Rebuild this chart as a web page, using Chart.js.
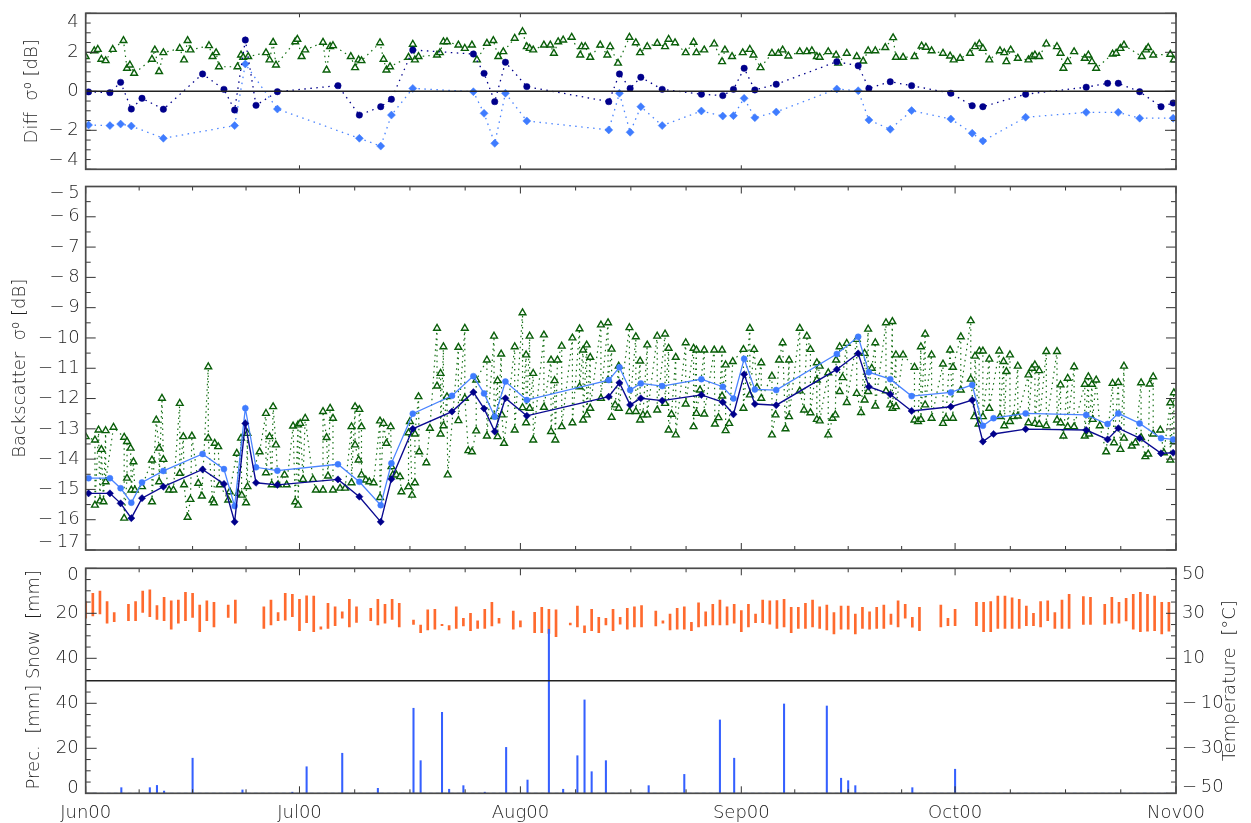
<!DOCTYPE html>
<html><head><meta charset="utf-8">
<script src="https://cdn.jsdelivr.net/npm/chart.js@4.4.1/dist/chart.umd.min.js"></script>
<style>
html,body{margin:0;padding:0;background:#fff;}
#wrap{position:relative;width:1251px;height:823px;overflow:hidden;background:#fff;}
canvas{position:absolute;left:0;}
</style></head><body>
<div id="wrap">
<canvas id="cDiff" style="top:0px" width="1251" height="180"></canvas>
<canvas id="cBs" style="top:180px" width="1251" height="380"></canvas>
<canvas id="cMet" style="top:560px" width="1251" height="263"></canvas>
</div>
<script>
// ---------- categories / tick labels ----------
const monthDays = [0, 30, 61, 92, 122, 153];          // days since 1 Jun 2000
const monthLabels = ['Jun00','Jul00','Aug00','Sep00','Oct00','Nov00'];

// ---------- backscatter (two series on common pass days) ----------
const passDays = [0.4,3.4,4.9,6.4,7.9,10.9,16.4,19.4,20.9,22.4,23.9,26.9,35.4,38.4,41.4,42.9,45.9,51.4,54.4,55.9,57.4,58.9,61.9,73.4,74.9,76.4,77.9,80.9,86.4,89.4,90.9,92.4,93.9,96.9,105.4,108.4,109.9,112.9,115.9,121.4,124.4,125.9,127.4,131.9,140.4,143.4,144.9,147.9,150.9,152.6];
const bsNavy = [-15.13,-15.13,-15.46,-15.95,-15.29,-14.91,-14.34,-14.82,-16.07,-12.82,-14.78,-14.85,-14.67,-15.24,-16.07,-14.66,-13.0,-12.43,-11.79,-12.33,-13.09,-11.99,-12.57,-11.94,-11.48,-12.21,-11.99,-12.07,-11.88,-12.12,-12.52,-11.2,-12.18,-12.22,-11.04,-10.51,-11.61,-11.86,-12.41,-12.27,-12.05,-13.42,-13.17,-13.01,-13.04,-13.35,-12.98,-13.31,-13.81,-13.79];
const bsLight = [-14.63,-14.63,-14.96,-15.44,-14.77,-14.39,-13.83,-14.33,-15.55,-12.32,-14.27,-14.38,-14.17,-14.75,-15.52,-14.14,-12.5,-11.91,-11.26,-11.83,-12.6,-11.44,-12.05,-11.39,-10.97,-11.72,-11.5,-11.59,-11.36,-11.61,-12.0,-10.69,-11.7,-11.72,-10.53,-9.96,-11.13,-11.36,-11.92,-11.8,-11.55,-12.9,-12.65,-12.49,-12.54,-12.84,-12.49,-12.82,-13.31,-13.35];

// green measured backscatter [day, dB]
const bsGreen = [[0.0,-13.26],[1.3,-13.37],[1.3,-15.52],[1.8,-13.04],[2.0,-15.38],[2.2,-13.68],[2.5,-15.41],[2.8,-13.06],[2.8,-14.75],[3.9,-12.95],[5.4,-13.28],[5.4,-15.95],[5.8,-14.63],[5.8,-13.42],[6.3,-13.64],[6.4,-15.02],[6.7,-14.09],[6.9,-15.02],[7.9,-14.91],[9.3,-14.03],[9.3,-15.41],[9.9,-12.71],[10.3,-13.64],[10.3,-14.75],[10.7,-11.99],[10.9,-14.01],[11.7,-15.02],[12.3,-15.02],[13.2,-12.16],[13.2,-14.47],[13.7,-13.26],[13.8,-14.85],[14.3,-15.92],[14.7,-15.33],[14.9,-13.24],[15.8,-14.8],[16.3,-15.22],[17.2,-10.95],[17.2,-13.31],[17.8,-15.35],[18.0,-15.44],[18.1,-13.48],[18.6,-13.59],[18.8,-14.85],[20.0,-15.35],[20.2,-15.08],[21.2,-13.81],[21.4,-15.13],[21.8,-13.31],[21.9,-15.19],[22.5,-15.44],[22.7,-13.15],[22.7,-14.91],[24.4,-13.76],[25.3,-12.49],[25.3,-14.45],[25.8,-13.26],[26.1,-14.85],[26.3,-12.27],[26.7,-13.53],[27.0,-14.85],[27.9,-14.52],[28.2,-14.85],[29.1,-12.91],[29.4,-15.41],[29.8,-12.87],[29.8,-15.52],[30.1,-12.82],[30.5,-14.67],[30.8,-12.65],[31.9,-14.67],[32.3,-15.02],[33.3,-15.02],[33.3,-12.43],[33.8,-13.29],[34.0,-14.56],[34.3,-12.32],[34.7,-12.65],[34.7,-15.02],[35.7,-14.96],[36.4,-14.96],[37.3,-12.93],[37.3,-14.78],[37.8,-12.27],[37.8,-13.53],[38.3,-14.03],[38.4,-12.36],[38.7,-12.93],[38.7,-14.52],[39.3,-14.69],[39.8,-14.75],[40.4,-14.78],[41.3,-12.74],[41.3,-15.27],[41.8,-12.82],[42.2,-13.48],[42.8,-12.93],[42.9,-14.25],[43.1,-14.52],[43.6,-14.52],[44.1,-14.58],[44.3,-15.08],[45.3,-14.91],[45.3,-13.13],[45.5,-12.76],[45.8,-15.19],[46.2,-14.78],[46.2,-13.17],[46.7,-11.94],[46.8,-13.76],[47.8,-14.12],[48.3,-12.98],[49.3,-9.68],[49.3,-11.59],[49.8,-11.17],[49.8,-13.17],[50.2,-10.29],[50.2,-12.9],[50.7,-11.94],[50.8,-14.52],[52.3,-10.31],[52.3,-12.73],[53.2,-9.68],[53.2,-11.99],[53.7,-13.72],[54.2,-13.76],[54.8,-13.07],[54.8,-11.39],[56.3,-10.73],[56.3,-13.24],[57.3,-9.94],[57.3,-12.6],[57.8,-11.41],[57.8,-13.26],[58.3,-10.53],[58.4,-12.54],[58.7,-13.48],[60.2,-10.29],[60.2,-13.04],[61.3,-9.17],[61.3,-12.3],[61.8,-10.56],[61.8,-12.8],[62.3,-9.94],[62.3,-12.32],[62.8,-11.17],[62.8,-13.37],[64.3,-9.9],[64.3,-12.29],[65.3,-10.73],[65.3,-13.09],[65.8,-11.41],[65.9,-13.37],[66.2,-10.73],[66.8,-10.27],[66.8,-12.93],[68.3,-10.0],[68.3,-12.8],[69.3,-9.7],[69.3,-11.61],[69.8,-10.4],[69.8,-12.71],[70.3,-10.23],[70.3,-12.54],[70.8,-10.64],[70.8,-12.32],[72.3,-9.57],[72.3,-11.99],[73.3,-9.5],[73.3,-11.39],[73.8,-10.37],[73.8,-12.62],[74.3,-12.21],[74.8,-10.93],[74.8,-12.32],[76.3,-9.66],[76.3,-12.43],[77.2,-9.96],[77.2,-12.43],[77.8,-10.76],[77.8,-12.71],[78.2,-12.54],[78.8,-10.23],[78.8,-12.54],[80.2,-9.94],[80.2,-12.38],[81.3,-9.87],[81.3,-12.16],[81.8,-10.34],[81.8,-13.04],[82.2,-12.52],[82.8,-10.64],[82.8,-13.2],[84.2,-10.16],[84.2,-12.18],[85.3,-10.34],[85.3,-12.93],[85.7,-10.4],[85.7,-12.49],[86.2,-11.72],[86.8,-10.4],[86.8,-12.51],[88.2,-10.4],[88.3,-12.84],[88.8,-12.63],[89.3,-10.4],[89.3,-11.92],[89.8,-10.89],[89.8,-13.06],[90.3,-12.82],[90.8,-10.78],[92.3,-10.38],[92.3,-12.32],[93.2,-9.68],[93.2,-11.88],[93.8,-10.38],[94.2,-11.64],[94.8,-10.82],[94.8,-11.99],[96.3,-11.26],[96.3,-13.2],[96.8,-12.54],[97.3,-10.73],[97.8,-10.16],[98.2,-13.0],[98.7,-10.73],[98.7,-12.6],[100.2,-9.68],[100.2,-11.75],[100.8,-12.38],[101.2,-9.94],[101.7,-10.38],[101.7,-12.47],[102.6,-10.82],[102.6,-12.69],[102.6,-11.39],[103.0,-10.93],[103.0,-12.74],[104.2,-11.15],[104.2,-13.2],[104.8,-12.65],[105.2,-12.54],[105.3,-10.73],[105.8,-10.29],[105.8,-11.77],[106.2,-11.31],[106.8,-10.18],[106.8,-12.13],[108.2,-10.05],[108.2,-11.83],[108.8,-12.46],[109.3,-10.51],[109.3,-12.05],[109.8,-9.71],[109.8,-11.77],[110.3,-11.0],[110.8,-10.16],[110.8,-12.25],[112.3,-9.5],[112.3,-11.75],[112.9,-12.21],[113.2,-9.46],[113.2,-12.32],[113.7,-10.56],[113.7,-12.27],[114.7,-10.56],[116.3,-10.97],[116.3,-12.71],[116.8,-12.76],[117.2,-10.29],[117.2,-12.69],[117.8,-9.87],[117.8,-12.21],[118.7,-10.56],[118.7,-12.65],[120.3,-10.86],[120.3,-12.82],[120.7,-12.65],[121.3,-10.4],[121.7,-12.65],[121.7,-10.97],[122.8,-9.96],[122.8,-11.72],[124.2,-9.43],[124.2,-11.36],[124.7,-12.6],[124.8,-10.6],[125.3,-12.84],[125.4,-10.43],[125.9,-10.43],[125.9,-12.6],[126.8,-10.7],[126.8,-12.32],[128.2,-10.43],[128.3,-12.6],[128.8,-10.78],[128.9,-12.9],[129.2,-11.11],[129.7,-10.56],[129.7,-12.76],[130.2,-12.6],[130.8,-10.93],[130.8,-12.58],[132.3,-11.22],[132.3,-12.8],[132.8,-11.0],[133.2,-10.89],[133.2,-12.82],[133.8,-11.08],[133.8,-12.85],[134.8,-10.45],[134.8,-12.9],[136.3,-10.45],[136.3,-12.71],[136.8,-11.55],[136.8,-12.8],[137.2,-13.24],[137.8,-11.33],[137.8,-12.93],[138.7,-10.95],[138.7,-12.93],[140.2,-11.53],[140.2,-13.24],[140.7,-11.28],[140.8,-13.17],[141.2,-11.53],[141.3,-12.69],[141.8,-11.39],[142.3,-12.9],[143.2,-13.76],[144.1,-11.5],[144.3,-13.46],[144.9,-11.47],[145.2,-13.68],[145.7,-10.93],[145.7,-13.31],[146.8,-13.57],[147.3,-13.46],[148.1,-11.48],[148.1,-13.29],[148.7,-13.92],[149.1,-13.83],[149.3,-11.52],[149.8,-11.28],[149.8,-13.17],[150.8,-13.04],[151.3,-13.79],[152.2,-12.14],[152.2,-14.03],[152.7,-11.81],[152.7,-13.42]];

// ---------- differences [day, dB] ----------
const diffNavy = [[0.4,-0.03],[3.4,-0.07],[4.9,0.46],[6.4,-0.91],[7.9,-0.36],[10.9,-0.92],[16.4,0.89],[19.4,0.1],[20.9,-0.96],[22.4,2.63],[23.9,-0.72],[26.9,-0.02],[35.4,0.29],[38.4,-1.22],[41.4,-0.79],[42.9,-0.41],[45.9,2.12],[54.4,1.91],[55.9,0.92],[57.4,-0.53],[58.9,1.49],[61.9,0.24],[73.4,-0.53],[74.9,0.89],[76.4,0.15],[77.9,0.72],[80.9,0.1],[86.4,-0.15],[89.4,-0.22],[90.9,0.1],[92.4,1.18],[93.9,0.07],[96.9,0.36],[105.4,1.52],[108.4,1.31],[109.9,0.15],[112.9,0.49],[115.9,0.29],[121.4,-0.1],[124.4,-0.74],[125.9,-0.79],[131.9,-0.15],[140.4,0.21],[143.4,0.41],[144.9,0.41],[147.9,-0.02],[150.9,-0.79],[152.6,-0.6]];
const diffLight = [[0.4,-1.73],[3.4,-1.76],[4.9,-1.68],[6.4,-1.78],[10.9,-2.41],[20.9,-1.76],[22.4,1.4],[26.9,-0.91],[38.4,-2.41],[41.4,-2.81],[42.9,-1.22],[45.9,0.15],[54.4,-0.02],[55.9,-1.13],[57.4,-2.67],[58.9,-0.1],[61.9,-1.52],[73.4,-1.98],[74.9,-0.1],[76.4,-2.1],[77.9,-0.79],[80.9,-1.76],[86.4,-1.01],[89.4,-1.27],[90.9,-1.25],[92.4,-0.36],[93.9,-1.35],[96.9,-1.06],[105.4,0.12],[108.4,0.03],[109.9,-1.47],[112.9,-1.95],[115.9,-0.99],[121.4,-1.42],[124.4,-2.15],[125.9,-2.55],[131.9,-1.33],[140.4,-1.08],[144.9,-1.08],[147.9,-1.38],[152.6,-1.38]];
const diffGreen = [[0.0,1.78],[1.2,2.08],[1.7,2.15],[2.2,1.64],[2.8,1.57],[3.8,2.15],[5.3,2.6],[5.8,1.18],[6.2,1.35],[6.8,0.92],[9.3,1.64],[9.7,2.12],[10.3,1.01],[10.9,1.98],[13.2,2.2],[13.8,1.61],[14.3,2.6],[14.7,2.12],[17.3,2.34],[17.8,1.78],[18.3,1.98],[18.7,1.26],[21.3,1.26],[21.8,1.86],[22.1,1.74],[22.8,1.78],[25.3,1.98],[25.8,1.61],[26.3,2.51],[26.7,1.35],[29.4,2.54],[29.7,2.67],[30.3,1.78],[30.8,2.12],[33.3,2.51],[33.8,1.09],[34.3,2.29],[34.7,2.34],[37.2,1.78],[37.8,1.21],[38.3,1.61],[38.7,1.57],[41.3,2.49],[41.8,1.64],[42.2,1.09],[42.7,1.26],[45.3,1.74],[45.9,2.41],[46.2,1.61],[46.7,1.78],[49.3,1.86],[49.7,1.98],[50.2,2.54],[50.7,2.54],[52.3,2.37],[53.2,2.2],[54.2,2.37],[54.9,1.61],[56.3,2.46],[57.2,2.6],[57.9,1.78],[58.6,2.03],[60.2,2.72],[61.3,3.06],[61.9,2.29],[62.3,2.2],[62.8,2.12],[64.3,2.37],[65.2,2.37],[65.7,1.95],[66.3,2.54],[67.0,2.63],[68.2,2.77],[69.4,1.86],[69.6,2.29],[70.1,2.29],[70.8,1.74],[72.2,2.37],[73.2,1.86],[73.6,2.29],[74.7,1.44],[76.3,2.77],[77.2,2.49],[77.8,1.98],[78.8,2.29],[80.2,2.46],[81.3,2.29],[81.8,2.67],[82.7,2.49],[84.2,1.98],[85.3,2.51],[85.7,1.98],[86.8,2.12],[88.2,2.43],[89.3,1.52],[89.7,2.12],[90.7,1.78],[92.2,1.98],[93.2,2.15],[93.7,1.86],[94.7,1.21],[96.3,1.95],[97.2,1.95],[97.8,2.12],[98.6,1.81],[100.2,2.03],[101.2,2.03],[101.9,2.08],[102.6,1.78],[103.0,1.74],[104.2,2.03],[105.3,1.86],[105.6,1.44],[106.8,1.95],[108.2,1.78],[109.1,1.55],[109.8,2.08],[110.8,2.08],[112.2,2.24],[113.3,2.75],[113.7,1.74],[114.7,1.74],[116.3,1.78],[117.3,2.32],[117.9,2.26],[118.7,2.08],[120.3,1.95],[121.3,1.81],[121.8,1.61],[122.7,1.69],[124.1,1.95],[124.8,2.29],[125.4,2.43],[125.9,2.2],[126.8,1.61],[128.3,2.08],[128.9,1.98],[129.2,1.52],[129.8,2.12],[130.8,1.69],[132.3,1.61],[132.8,1.78],[133.2,1.86],[133.8,1.78],[134.8,2.43],[136.3,2.29],[136.8,1.95],[137.2,1.18],[137.8,1.52],[138.7,2.03],[140.2,1.69],[140.7,1.86],[141.2,1.52],[141.8,1.18],[144.1,1.91],[144.6,1.95],[145.2,2.2],[145.7,2.37],[148.2,1.78],[148.8,2.12],[149.1,2.24],[149.8,1.86],[152.2,1.9],[152.7,1.61]];

// ---------- meteorology ----------
// daily temperature [day, min °C, max °C]
const tempRange = [[0,27.8,35.2],[1,28.8,38.9],[2,29.7,39.9],[3,25.6,35.2],[4,26.3,30.3],[6,26.7,34.0],[7,26.7,35.2],[8,30.4,39.9],[9,28.5,40.4],[10,27.3,33.4],[11,26.7,37.1],[12,22.9,35.5],[13,25.6,35.9],[14,26.7,39.3],[15,28.2,38.9],[16,21.8,33.7],[17,26.7,35.5],[18,24.0,34.9],[20,28.2,33.7],[21,25.6,35.9],[25,23.3,32.9],[26,24.8,35.9],[27,26.7,30.3],[28,27.0,38.9],[29,28.5,38.4],[30,22.3,36.2],[31,25.8,37.8],[32,21.8,37.7],[33,23.0,24.0],[34,23.3,34.4],[35,24.5,32.9],[36,27.8,30.7],[37,24.0,36.2],[38,26.0,32.9],[40,26.7,32.2],[41,24.8,36.2],[42,25.6,34.0],[43,27.3,36.2],[44,24.0,34.4],[46,25.1,27.0],[47,21.4,24.8],[48,22.6,31.5],[49,23.0,31.8],[50,24.5,25.1],[51,22.6,24.5],[52,23.3,32.9],[53,24.4,27.8],[54,22.3,30.0],[55,23.3,26.7],[56,23.3,31.8],[57,24.4,34.9],[58,25.6,27.8],[60,22.9,31.0],[61,24.0,26.7],[63,21.4,30.4],[64,21.4,32.7],[65,21.1,31.8],[66,19.6,31.5],[68,24.8,25.6],[69,24.0,33.2],[70,21.4,24.4],[71,22.3,31.8],[72,21.4,28.2],[73,24.8,27.8],[74,22.3,31.8],[75,25.2,28.2],[76,23.0,32.2],[77,24.0,32.9],[78,24.0,33.4],[80,24.4,31.0],[81,25.6,26.6],[82,22.6,29.7],[83,22.9,32.2],[84,22.9,32.9],[85,22.3,26.0],[86,24.0,34.7],[87,24.4,30.7],[88,24.8,34.0],[89,24.8,35.9],[90,24.8,32.9],[91,25.6,34.0],[92,21.8,31.2],[93,24.0,34.0],[94,25.8,29.6],[95,25.8,35.9],[96,25.2,35.5],[97,23.3,35.6],[98,24.0,36.2],[99,21.4,32.7],[100,23.3,32.7],[101,23.3,34.4],[102,24.0,35.9],[103,23.3,32.9],[104,22.6,33.7],[105,20.8,30.3],[106,22.9,33.2],[107,22.9,33.2],[108,20.8,29.7],[109,23.3,32.7],[110,22.9,30.7],[111,23.3,32.7],[112,23.3,33.7],[113,25.1,29.7],[114,24.0,35.5],[115,27.8,34.0],[116,23.8,28.2],[117,22.3,32.7],[120,24.0,33.7],[121,24.5,27.8],[122,24.5,31.8],[125,24.5,34.9],[126,21.8,34.9],[127,21.8,35.2],[128,23.3,37.7],[129,23.3,37.7],[130,23.3,36.9],[131,23.3,36.2],[132,24.5,33.2],[133,24.5,30.0],[134,24.0,35.2],[135,26.7,35.5],[136,23.3,30.3],[137,23.3,35.9],[138,23.3,38.4],[140,25.1,37.4],[141,25.1,37.1],[143,25.1,34.0],[144,25.6,37.1],[145,25.6,34.9],[146,26.6,36.7],[147,22.9,38.4],[148,21.8,39.3],[149,22.1,38.4],[150,22.3,37.7],[151,20.8,34.9],[152,22.1,34.9]];
// daily precipitation [day, mm]
const precip = [[5,2.5],[9,2.5],[10,3.5],[11,1.0],[15,15.6],[22,1.5],[29,0.5],[31,11.8],[36,17.8],[41,2.2],[46,37.8],[47,14.5],[50,36.0],[51,1.8],[53,3.4],[56,0.5],[59,20.4],[62,5.9],[65,72.9],[67,1.8],[69,16.7],[70,41.5],[71,9.6],[73,14.5],[79,3.4],[84,8.4],[89,32.6],[91,15.6],[98,39.7],[104,38.8],[106,6.7],[107,5.6],[108,3.4],[116,2.5],[122,10.7]];

// ---------- tick label sets ----------
const diffTickVals = [4, 2, 0, -2, -4];
const bsTickVals = [-5,-6,-7,-8,-9,-10,-11,-12,-13,-14,-15,-16,-17];
const snowTickVals = [0, 20, 40];
const precTickVals = [0, 20, 40];
const tempTickVals = [50, 30, 10, -10, -30, -50];
const tempTitle = 'Temperature  [\u00b0C]';

// ---------- helpers ----------
const fmt = v => (v < 0 ? '\u2212\u2009' + Math.abs(v) : String(v));
const range = (a, b, s) => { const r = []; for (let v = a; v <= b + 1e-9; v += s) r.push(+v.toFixed(4)); return r; };
const quarterTicks = (() => { const r = []; for (let i = 0; i < monthDays.length - 1; i++) { const a = monthDays[i], b = monthDays[i+1]; for (let k = 1; k < 4; k++) r.push(a + k * (b - a) / 4); } return r; })();
const pairsXY = arr => arr.map(p => ({x: p[0], y: p[1]}));
const FONT_FAMILY = "'DejaVu Sans', 'Liberation Sans', sans-serif";

Chart.defaults.font.family = FONT_FAMILY;
Chart.defaults.font.size = 18;
Chart.defaults.font.weight = '300';
Chart.defaults.color = '#1e1e1e';
Chart.defaults.animation = false;
Chart.defaults.responsive = false;
Chart.defaults.plugins.legend.display = false;
Chart.defaults.plugins.tooltip.enabled = false;

// IDL-like frame with inward tick marks, drawn through the chart's scales
const idlFrame = {
  id: 'idlFrame',
  afterDraw(chart, args, o) {
    const {ctx, chartArea: a} = chart;
    const xs = chart.scales.x;
    ctx.save();
    const seg = (x1, y1, x2, y2) => { ctx.beginPath(); ctx.moveTo(x1, y1); ctx.lineTo(x2, y2); ctx.stroke(); };
    ctx.strokeStyle = '#333'; ctx.lineWidth = 1;
    const xt = (vals, len) => vals.forEach(v => { const p = xs.getPixelForValue(v); seg(p, a.top, p, a.top + len); seg(p, a.bottom, p, a.bottom - len); });
    xt(o.xMajor, o.xMajorLen);
    if (o.xMinor) xt(o.xMinor, o.xMinorLen);
    (o.yTicks || []).forEach(t => {
      const s = chart.scales[t.id];
      const dr = (vals, len) => vals.forEach(v => {
        const p = s.getPixelForValue(v);
        t.sides.forEach(side => { if (side === 'left') seg(a.left, p, a.left + len, p); else seg(a.right, p, a.right - len, p); });
      });
      dr(t.major, t.majorLen); dr(t.minor, t.minorLen);
    });
    ctx.strokeStyle = '#222'; ctx.lineWidth = 1.4;
    (o.hLines || []).forEach(h => { const p = chart.scales[h.id].getPixelForValue(h.value); seg(a.left, p, a.right, p); });
    ctx.strokeStyle = '#4a4a4a'; ctx.lineWidth = 1.7;
    ctx.strokeRect(a.left, a.top, a.right - a.left, a.bottom - a.top);
    // right-hand axis title, reading bottom-to-top like the original
    if (o.rightTitle) {
      const s = chart.scales[o.rightTitle.id];
      ctx.fillStyle = '#1e1e1e';
      ctx.font = '300 18px ' + FONT_FAMILY;
      ctx.textAlign = 'center'; ctx.textBaseline = 'middle';
      ctx.translate(s.right - o.rightTitle.offset, (s.top + s.bottom) / 2);
      ctx.rotate(-Math.PI / 2);
      ctx.fillText(o.rightTitle.text, 0, 0);
    }
    ctx.restore();
  }
};

// y axis builder; edge labels are placed slightly inside the frame like the original
function yAxis(cfg) {
  const span = cfg.max - cfg.min;
  const pos = cfg.vals.map(v => v === cfg.max ? v - cfg.inset * span : (v === cfg.min ? v + cfg.inset * span : v));
  const ax = {
    type: 'linear', position: cfg.position, min: cfg.min, max: cfg.max, reverse: !!cfg.reverse,
    grid: {display: false, drawTicks: false}, border: {display: false},
    afterBuildTicks: s => { s.ticks = pos.map(v => ({value: v})); },
    afterFit: s => { s.width = cfg.width; s.paddingTop = 0; s.paddingBottom = 0; },
    ticks: {autoSkip: false, padding: cfg.pad, callback: (v, i) => fmt(cfg.vals[i])},
    title: {display: !!cfg.title, text: cfg.title || '', padding: {top: cfg.titlePad || 0, bottom: 0}, font: {size: 18}}
  };
  if (cfg.stack) { ax.stack = cfg.stack; ax.stackWeight = cfg.stackWeight || 1; }
  return ax;
}
const hiddenX = {type: 'linear', min: 0, max: 153, display: false};

// ---------- Chart 1 : differences ----------
new Chart(document.getElementById('cDiff'), {
  type: 'line',
  data: {datasets: [
    {data: pairsXY(diffNavy), borderColor: '#00008b', borderWidth: 1.3, borderDash: [1.5, 4.5], pointStyle: 'circle', pointRadius: 3.2, pointBackgroundColor: '#00008b', pointBorderColor: '#00008b', pointBorderWidth: 0.5, order: 1},
    {data: pairsXY(diffLight), borderColor: '#4a84ff', borderWidth: 1.3, borderDash: [1.5, 4.5], pointStyle: 'rectRot', pointRadius: 4, pointBackgroundColor: '#3f7cff', pointBorderColor: '#3f7cff', pointBorderWidth: 0.5, order: 2},
    {data: pairsXY(diffGreen), borderColor: '#157015', borderWidth: 1.2, borderDash: [1.5, 4], pointStyle: 'triangle', pointRadius: 3.9, pointBackgroundColor: 'rgba(255,255,255,0.85)', pointBorderColor: '#0a5f0a', pointBorderWidth: 1.4, order: 3}
  ]},
  options: {
    layout: {padding: {left: 0, right: 75, top: 13.3, bottom: 10.7}},
    scales: {
      x: hiddenX,
      y: yAxis({position: 'left', min: -4, max: 4, vals: diffTickVals, inset: 0.06, width: 85.7, pad: 7, title: 'Diff  \u03c3\u2070 [dB]', titlePad: 22})
    },
    plugins: {idlFrame: {xMajor: monthDays, xMajorLen: 4, xMinor: null,
      yTicks: [{id: 'y', sides: ['left', 'right'], major: [-4, -2, 0, 2, 4], minor: range(-4, 4, 0.5), majorLen: 11, minorLen: 5}],
      hLines: [{id: 'y', value: 0}]}}
  },
  plugins: [idlFrame]
});

// ---------- Chart 2 : backscatter ----------
new Chart(document.getElementById('cBs'), {
  type: 'line',
  data: {datasets: [
    {data: passDays.map((d, i) => ({x: d, y: bsNavy[i]})), borderColor: '#0a0a90', borderWidth: 1.4, pointStyle: 'rectRot', pointRadius: 3.6, pointBackgroundColor: '#00008b', pointBorderColor: '#00008b', pointBorderWidth: 0.5, order: 1},
    {data: passDays.map((d, i) => ({x: d, y: bsLight[i]})), borderColor: '#4a84ff', borderWidth: 1.3, pointStyle: 'circle', pointRadius: 3, pointBackgroundColor: '#3f7cff', pointBorderColor: '#3f7cff', pointBorderWidth: 0.5, order: 2},
    {data: pairsXY(bsGreen), borderColor: '#157015', borderWidth: 1.2, borderDash: [1.5, 4], pointStyle: 'triangle', pointRadius: 3.9, pointBackgroundColor: 'rgba(255,255,255,0.85)', pointBorderColor: '#0a5f0a', pointBorderWidth: 1.4, order: 3}
  ]},
  options: {
    layout: {padding: {left: 0, right: 75, top: 6.5, bottom: 10}},
    scales: {
      x: hiddenX,
      y: yAxis({position: 'left', min: -17, max: -5, vals: bsTickVals, inset: 0.02, width: 85.7, pad: 6, title: 'Backscatter  \u03c3\u2070 [dB]', titlePad: 10})
    },
    plugins: {idlFrame: {xMajor: monthDays, xMajorLen: 7, xMinor: quarterTicks, xMinorLen: 4,
      yTicks: [{id: 'y', sides: ['left', 'right'], major: range(-17, -5, 1), minor: range(-16.5, -5.5, 1), majorLen: 10, minorLen: 5}]}}
  },
  plugins: [idlFrame]
});

// ---------- Chart 3 : temperature / precipitation ----------
new Chart(document.getElementById('cMet'), {
  type: 'line',
  data: {datasets: [
    {type: 'bar', yAxisID: 'yT', grouped: false, barThickness: 2, borderWidth: 0, backgroundColor: '#ff6a2e',
     data: tempRange.map(r => ({x: r[0], y: [r[1], r[2]]})), order: 2},
    {type: 'bar', yAxisID: 'yP', grouped: false, barThickness: 1.4, borderWidth: 0, backgroundColor: '#3560ff', clip: false,
     data: precip.map(r => ({x: r[0], y: r[1]})), order: 1},
    {type: 'line', yAxisID: 'yP', data: [{x: monthDays[0], y: 0}, {x: monthDays[monthDays.length - 1], y: 0}],
     borderColor: '#7a9fff', borderWidth: 1, borderDash: [4, 3], pointRadius: 0, order: 3}
  ]},
  options: {
    layout: {padding: {left: 0, right: 0, top: 8.3, bottom: 0}},
    scales: {
      x: {type: 'linear', min: 0, max: 153, offset: false,
          grid: {display: false, drawTicks: false}, border: {display: false},
          afterBuildTicks: s => { s.ticks = monthDays.map(v => ({value: v})); },
          afterFit: s => { s.height = 29.7; },
          ticks: {autoSkip: false, maxRotation: 0, padding: 9, callback: (v, i) => monthLabels[i]}},
      yP: yAxis({position: 'left', stack: 'met', stackWeight: 1, min: 0, max: 50, vals: precTickVals, inset: 0.045, width: 85.7, pad: 7, title: 'Prec.  [mm]', titlePad: 24}),
      yS: yAxis({position: 'left', stack: 'met', stackWeight: 1, min: 0, max: 50, reverse: true, vals: snowTickVals, inset: 0.06, width: 85.7, pad: 7, title: 'Snow  [mm]', titlePad: 24}),
      yT: yAxis({position: 'right', min: -50, max: 50, vals: tempTickVals, inset: 0.028, width: 75, pad: 6})
    },
    plugins: {idlFrame: {xMajor: monthDays, xMajorLen: 7, xMinor: quarterTicks, xMinorLen: 4,
      yTicks: [
        {id: 'yS', sides: ['left'], major: [0, 20, 40], minor: [5, 10, 15, 25, 30, 35, 45], majorLen: 11, minorLen: 5},
        {id: 'yP', sides: ['left'], major: [0, 20, 40], minor: [5, 10, 15, 25, 30, 35, 45], majorLen: 11, minorLen: 5},
        {id: 'yT', sides: ['right'], major: [-50, -30, -10, 10, 30, 50], minor: range(-45, 45, 5).filter(v => Math.abs(v) % 20 !== 10), majorLen: 10, minorLen: 5}
      ],
      hLines: [{id: 'yT', value: 0}],
      rightTitle: {id: 'yT', text: tempTitle, offset: 21}}}
  },
  plugins: [idlFrame]
});
</script>
</body></html>
